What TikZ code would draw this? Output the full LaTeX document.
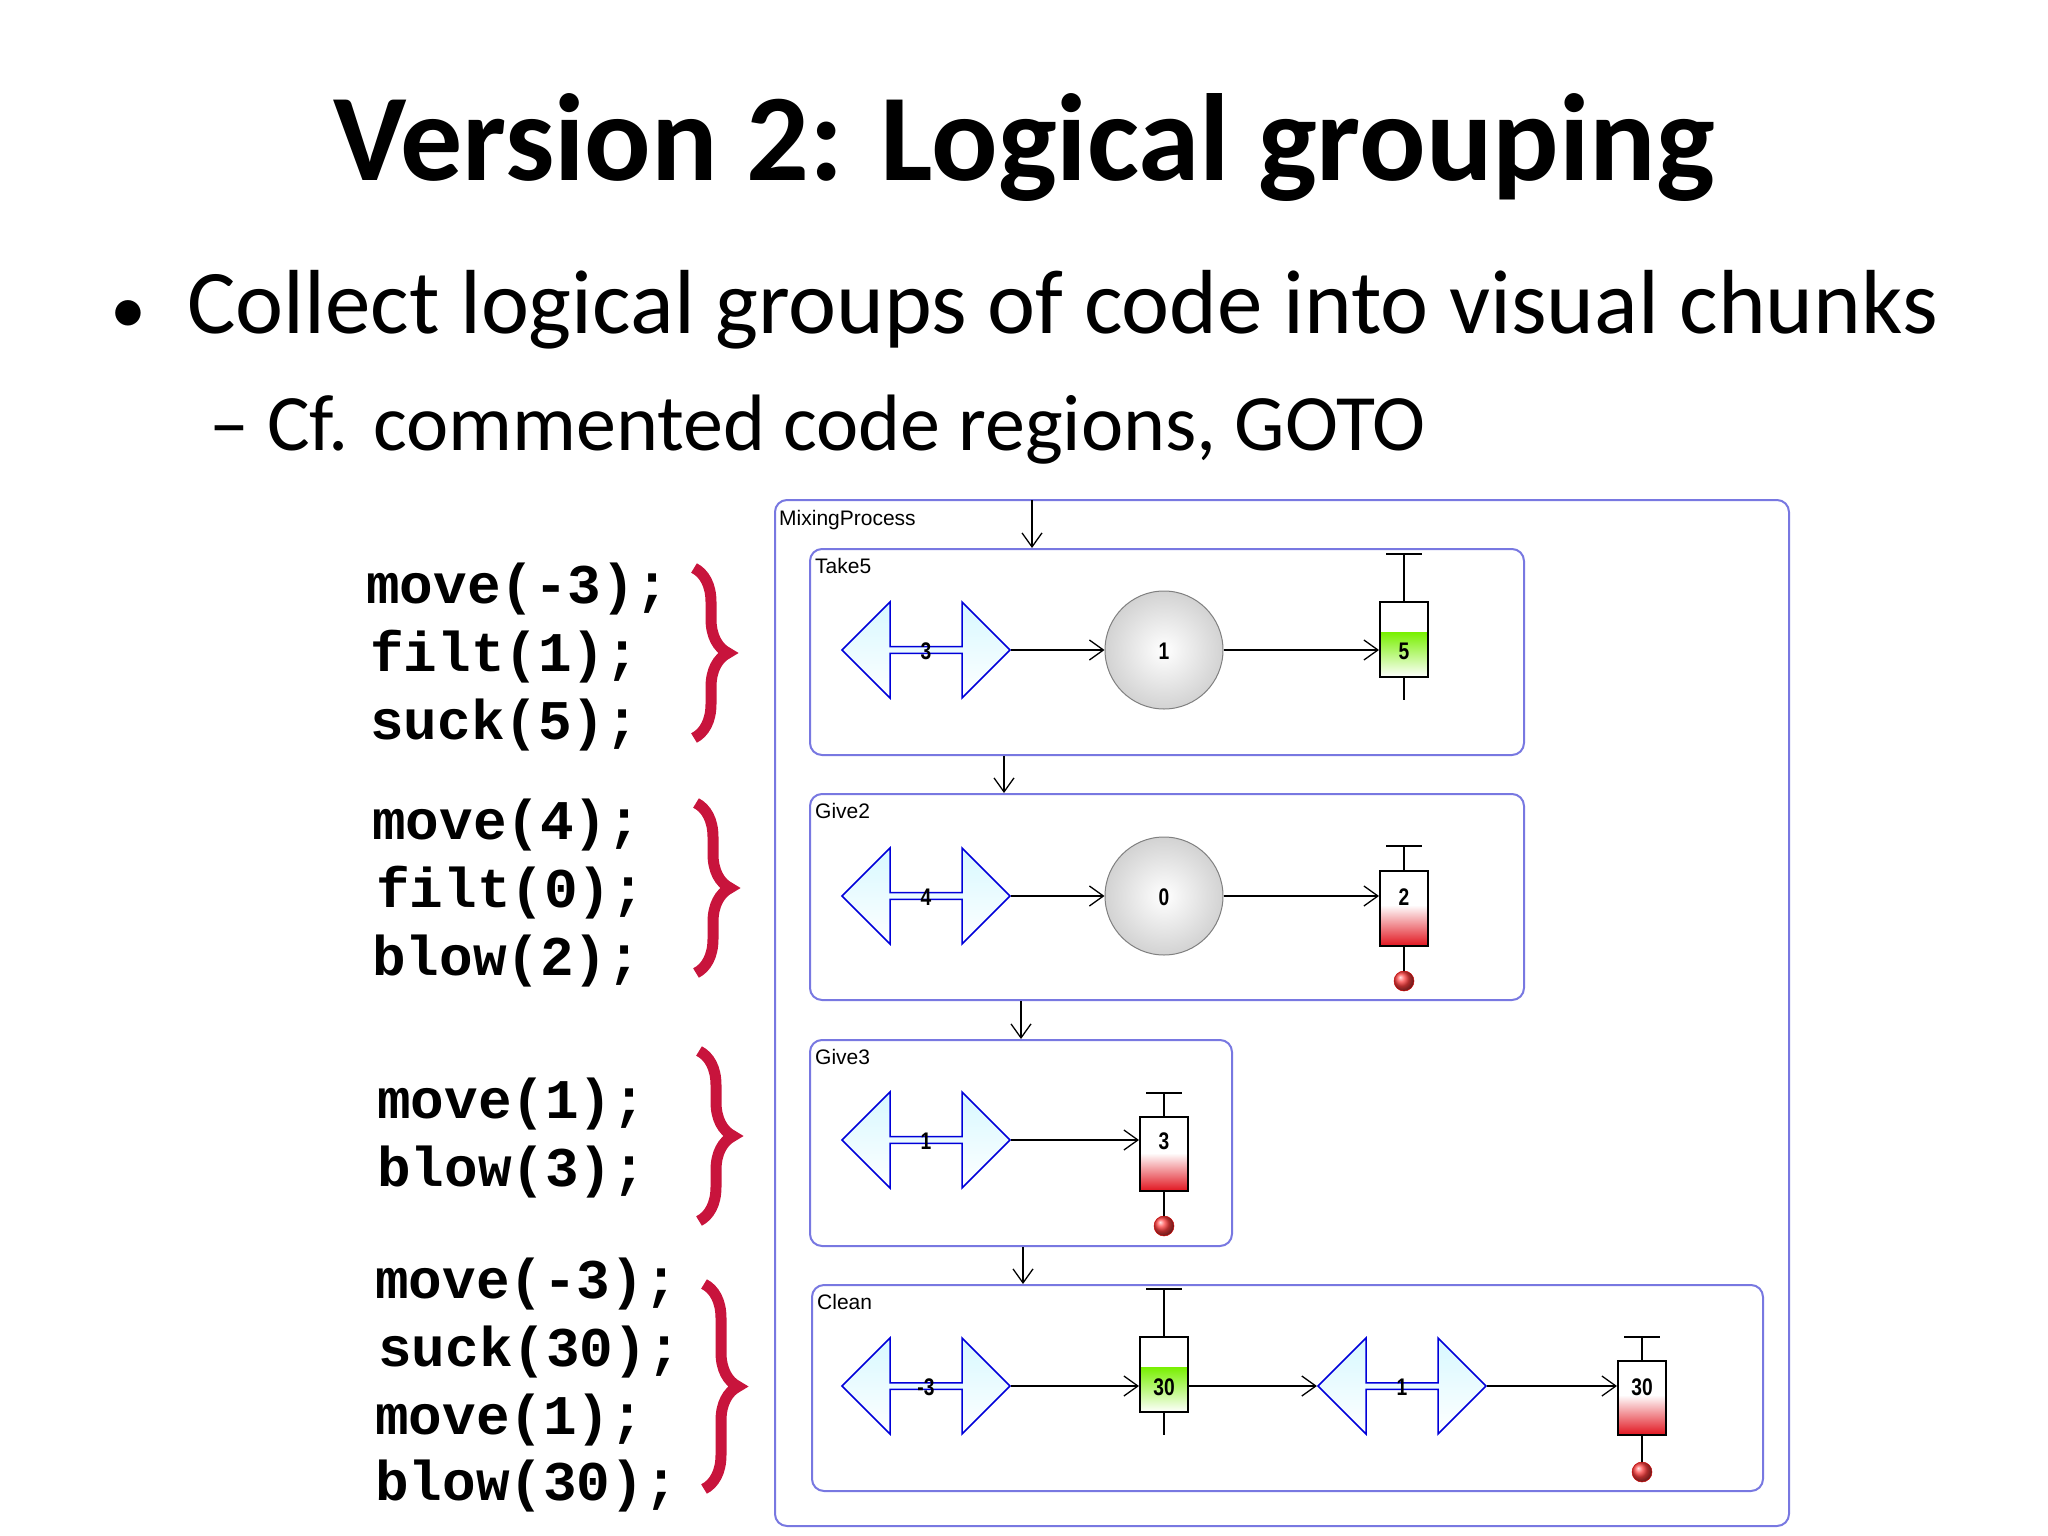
\documentclass[tikz,border=0pt]{standalone}
\usepackage{fontspec}
\setmainfont{Carlito}
\newfontfamily\codefont{Liberation Mono}
\newfontfamily\uifont{Liberation Sans}[FakeStretch=0.8]
\newfontfamily\smallfont{Liberation Sans}
\usetikzlibrary{shapes.arrows,decorations.pathreplacing,arrows.meta}
\definecolor{boxblue}{RGB}{120,120,225}
\definecolor{bracered}{RGB}{200,20,60}
\definecolor{arrfill}{RGB}{215,248,255}
\definecolor{gfill}{RGB}{120,240,0}
\definecolor{rfill}{RGB}{225,20,30}
\newcommand\mysyr[6]{% name, x, ytop, ybot, ybar, label
  \draw[stem] (#2,#3) -- (#2,#5);
  \draw[stem] (#2-18,#5) -- (#2+18,#5);
  \node[syrbox, minimum height=#4-#3] (#1) at (#2,{(#3+#4)/2}) {};}
\begin{document}
\begin{tikzpicture}[x=1pt,y=-1pt,
  grp/.style={draw=boxblue, line width=2pt, rounded corners=12pt, minimum width=#1, minimum height=206pt, inner sep=0pt},
  grplabel/.style={anchor=north west, inner sep=0pt, font=\smallfont\fontsize{21}{23}\selectfont},
  code/.style={anchor=west, inner sep=0pt, font=\codefont\bfseries\fontsize{56}{60}\selectfont},
  brc/.style={draw=bracered, line width=11pt, decorate, decoration={brace, amplitude=34pt}},
  darr/.style={shape=double arrow, draw=blue!85!black, line width=1.5pt, top color=arrfill, bottom color=white,
     minimum height=168pt, minimum width=96pt, double arrow head extend=24pt, double arrow tip angle=90,
     inner sep=1pt},
  circ/.style={circle, draw=gray, line width=1pt, inner color=white, outer color=gray!35, minimum size=118pt},
  syrbox/.style={rectangle, draw=black, line width=2pt, minimum width=48pt, inner sep=0pt},
  num/.style={inner sep=0pt, font=\uifont\bfseries\fontsize{24}{26}\selectfont},
  stem/.style={line width=1.5pt, black},
  conn/.style={line width=1.8pt, -{Straight Barb[length=14pt,width=20pt,line width=1.3pt]}},
  ball/.style={circle, inner sep=0pt, minimum size=20pt, ball color=red!75!white, draw=red!80!black, line width=0.5pt}
]
\useasboundingbox (0,0) rectangle (2048,1536);
% title and bullets
\node[font=\bfseries\fontsize{124}{130}\selectfont, anchor=base] (title) at (1024,180) {Version 2: Logical grouping};
\node[font=\fontsize{72}{80}\selectfont, anchor=base west, inner sep=0pt] (b1dot) at (110,333) {•};
\node[font=\fontsize{91}{100}\selectfont, anchor=base west, inner sep=0pt] (b1) at (187,333) {Collect logical groups of code into visual chunks};
\node[font=\fontsize{80}{88}\selectfont, anchor=base west, inner sep=0pt] (b2) at (209,450) {– Cf. commented code regions, GOTO};
% code
\node[code] (l1) at (366,589) {move(-3);};
\node[code] (l2) at (370,657) {filt(1);};
\node[code] (l3) at (370,725) {suck(5);};
\node[code] (l4) at (372,825) {move(4);};
\node[code] (l5) at (376,893) {filt(0);};
\node[code] (l6) at (372,961) {blow(2);};
\node[code] (l7) at (377,1104) {move(1);};
\node[code] (l8) at (377,1172) {blow(3);};
\node[code] (l9) at (375,1284) {move(-3);};
\node[code] (l10) at (378,1352) {suck(30);};
\node[code] (l11) at (375,1420) {move(1);};
\node[code] (l12) at (375,1486) {blow(30);};
% braces
\draw[brc] (694,568) -- (694,738);
\draw[brc] (696,803) -- (696,973);
\draw[brc] (699,1051) -- (699,1221);
\draw[brc] (704,1284) -- (704,1489);
% boxes
\node[grp=1014pt, minimum height=1026pt] (mix) at (1282,1013) {};
\node[grplabel] (mixl) at (779,510) {MixingProcess};
\node[grp=714pt] (take5) at (1167,652) {};
\node[grplabel] (take5l) at (815,558) {Take5};
\node[grp=714pt] (give2) at (1167,897) {};
\node[grplabel] (give2l) at (815,803) {Give2};
\node[grp=422pt] (give3) at (1021,1143) {};
\node[grplabel] (give3l) at (815,1049) {Give3};
\node[grp=951pt] (clean) at (1287.5,1388) {};
\node[grplabel] (cleanl) at (817,1294) {Clean};
% flow between boxes
\coordinate (f0) at (1032,500);
\coordinate (f1) at (1004,0);
\coordinate (f2) at (1021,0);
\coordinate (f3) at (1023,0);
\draw[conn, line width=1.5pt] (f0) -- (take5.north -| f0);
\draw[conn, line width=1.5pt] (take5.south -| f1) -- (give2.north -| f1);
\draw[conn, line width=1.5pt] (give2.south -| f2) -- (give3.north -| f2);
\draw[conn, line width=1.5pt] (give3.south -| f3) -- (clean.north -| f3);
% fills for syringes
\shade[top color=gfill, bottom color=white] (1380,632) rectangle (1428,677);
\shade[top color=white, bottom color=rfill] (1380,905) rectangle (1428,946);
\shade[top color=white, bottom color=rfill] (1140,1153) rectangle (1188,1191);
\shade[top color=gfill, bottom color=white] (1140,1367) rectangle (1188,1412);
\shade[top color=white, bottom color=rfill] (1618,1395) rectangle (1666,1435);
% Take5
\node[darr] (a1) at (926,650) {};
\node[num] (a1t) at (926,651) {3};
\node[circ] (c1) at (1164,650) {};
\node[num] (c1t) at (1164,651) {1};
\mysyr{s1}{1404}{602}{677}{554}{5}
\node[num] (s1t) at (1404,651) {5};
\draw[stem] (s1.south) -- (1404,700);
\draw[conn] (a1.east) -- (c1.west);
\draw[conn] (c1.east) -- (s1.west |- c1.east);
% Give2
\node[darr] (a2) at (926,896) {};
\node[num] (a2t) at (926,897) {4};
\node[circ] (c2) at (1164,896) {};
\node[num] (c2t) at (1164,897) {0};
\mysyr{s2}{1404}{871}{946}{846}{2}
\node[num] (s2t) at (1404,897) {2};
\node[ball] (r2) at (1404,981) {};
\draw[stem] (s2.south) -- (r2.north);
\draw[conn] (a2.east) -- (c2.west);
\draw[conn] (c2.east) -- (s2.west |- c2.east);
% Give3
\node[darr] (a3) at (926,1140) {};
\node[num] (a3t) at (926,1141) {1};
\mysyr{s3}{1164}{1117}{1191}{1093}{3}
\node[num] (s3t) at (1164,1141) {3};
\node[ball] (r3) at (1164,1226) {};
\draw[stem] (s3.south) -- (r3.north);
\draw[conn] (a3.east) -- (s3.west |- a3.east);
% Clean
\node[darr] (a4) at (926,1386) {};
\node[num] (a4t) at (926,1387) {-3};
\mysyr{s4}{1164}{1337}{1412}{1289}{30}
\node[num] (s4t) at (1164,1387) {30};
\draw[stem] (s4.south) -- (1164,1435);
\node[darr] (a5) at (1402,1386) {};
\node[num] (a5t) at (1402,1387) {1};
\mysyr{s5}{1642}{1361}{1435}{1337}{30}
\node[num] (s5t) at (1642,1387) {30};
\node[ball] (r5) at (1642,1472) {};
\draw[stem] (s5.south) -- (r5.north);
\draw[conn] (a4.east) -- (s4.west |- a4.east);
\draw[conn] (s4.east |- a4.east) -- (a5.west);
\draw[conn] (a5.east) -- (s5.west |- a5.east);
\end{tikzpicture}
\end{document}
